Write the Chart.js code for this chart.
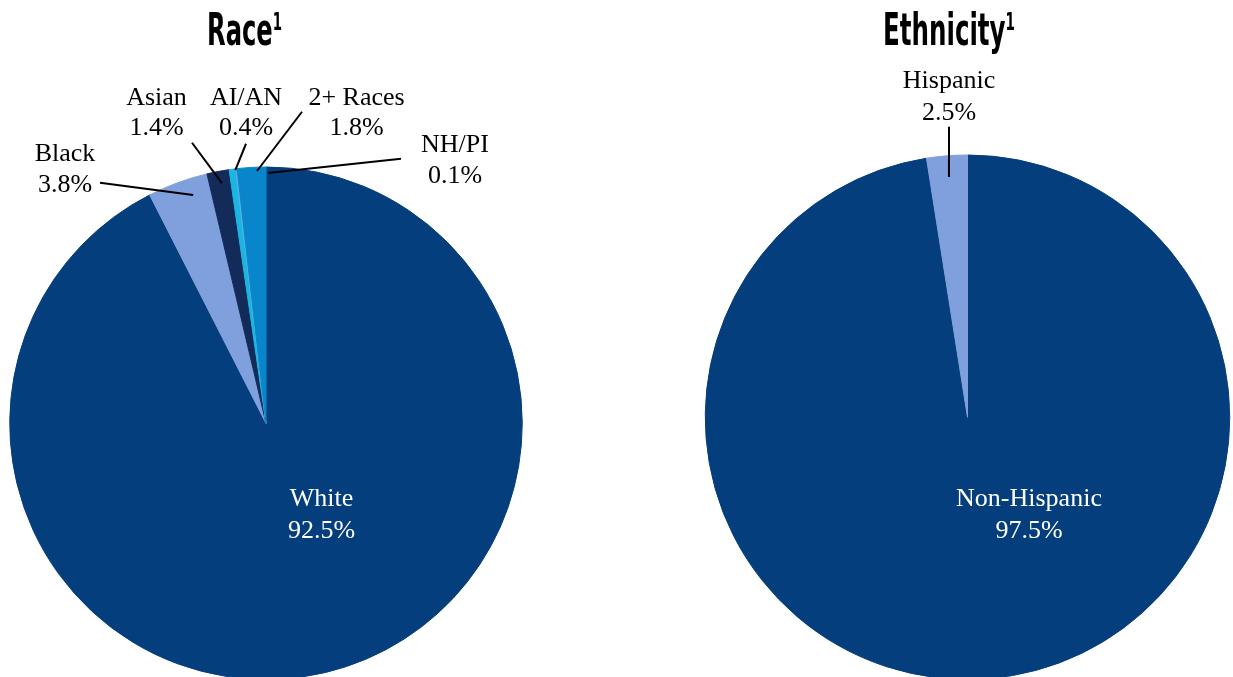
<!DOCTYPE html>
<html>
<head>
<meta charset="utf-8">
<script src="https://cdn.jsdelivr.net/npm/chart.js@4.4.1/dist/chart.umd.min.js"></script>
<style>
  html, body { margin:0; padding:0; width:1233px; height:677px; overflow:hidden; background:#fff; }
  .box { position:absolute; top:0; height:700px; }
  .title { position:absolute; top:0; white-space:nowrap; font-family:"Liberation Sans Narrow","DejaVu Sans Condensed","Liberation Sans",sans-serif; font-weight:bold; font-size:44px; line-height:1; color:#000; transform-origin:0 0; }
  .title sup { font-size:0.55em; vertical-align:0; position:relative; top:-0.62em; }
</style>
</head>
<body>
<div class="box" id="leftBox" style="left:0;width:600px;"><canvas id="raceChart"></canvas></div>
<div class="box" id="rightBox" style="left:620px;width:613px;"><canvas id="ethChart"></canvas></div>
<div class="title" id="t1">Race<sup>1</sup></div>
<div class="title" id="t2">Ethnicity<sup>1</sup></div>
<script>
// ---- data ----
const raceCategories = ["White", "Black", "Asian", "AI/AN", "NH/PI", "2+ Races"];
const raceValues     = [92.5, 3.8, 1.4, 0.4, 0.1, 1.8];
const ethCategories  = ["Non-Hispanic", "Hispanic"];
const ethValues      = [97.5, 2.5];

// ---- styles ----
const raceColors = ["#053e7c", "#7fa0dc", "#132b58", "#19b5e3", "#56aee0", "#0986cb"];
const ethColors  = ["#053e7c", "#7fa0dc"];
const LABEL_FONT = "26px 'Liberation Serif', 'Times New Roman', serif";

// label layout: text position relative to pie centre, leader line from outer point to a point on a slice
const raceLabelLayout = [
  { idx:0, dx:55.5,  dy:[82.5, 114.5], color:"#fff" },
  { idx:1, dx:-201,  dy:[-262.5,-231.5], line:{ox:-166, oy:-240.5, arc:1, f:0.68, r:0.935} },
  { idx:2, dx:-109.5,dy:[-318.5,-288.5], line:{ox:-74,  oy:-280.5, arc:2, f:0.58, r:0.953} },
  { idx:3, dx:-20,   dy:[-318.5,-288.5], line:{ox:-20,  oy:-279.5, arc:3, f:0.95, r:0.995} },
  { idx:4, dx:189,   dy:[-271.5,-240.5], line:{ox:135,  oy:-264.5, arc:0, f:0.0014, r:0.977} },
  { idx:5, dx:90.5,  dy:[-318.5,-288.5], line:{ox:36,   oy:-311.5, arc:5, f:0.685, r:0.985} }
];
const ethLabelLayout = [
  { idx:0, dx:61.5,  dy:[88.5, 120.5], color:"#fff" },
  { idx:1, dx:-18.5, dy:[-329.5,-297.5], line:{ox:-18.5, oy:-290.5, arc:1, f:0.51, r:0.919} }
];

const labelPlugin = {
  id: 'pieLabels',
  afterDatasetsDraw(chart, args, opts) {
    const meta = chart.getDatasetMeta(0);
    const arcs = meta.data;
    if (!arcs.length) return;
    const cx = arcs[0].x, cy = arcs[0].y;
    const ctx = chart.ctx;
    const cats = chart.data.labels;
    const vals = chart.data.datasets[0].data;
    ctx.save();
    opts.layout.forEach(l => {
      if (l.line) {
        const a = arcs[l.line.arc];
        const p = a.getProps(['startAngle','endAngle','outerRadius'], true);
        const ang = p.startAngle + l.line.f * (p.endAngle - p.startAngle);
        const rr = p.outerRadius * l.line.r;
        ctx.beginPath();
        ctx.moveTo(cx + l.line.ox, cy + l.line.oy);
        ctx.lineTo(cx + Math.cos(ang) * rr, cy + Math.sin(ang) * rr);
        ctx.strokeStyle = "#000";
        ctx.lineWidth = 2;
        ctx.stroke();
      }
      ctx.font = LABEL_FONT;
      ctx.fillStyle = l.color || "#000";
      ctx.textAlign = "center";
      ctx.textBaseline = "alphabetic";
      ctx.fillText(cats[l.idx], cx + l.dx, cy + l.dy[0]);
      ctx.fillText(vals[l.idx].toFixed(1) + "%", cx + l.dx, cy + l.dy[1]);
    });
    ctx.restore();
  }
};

function makePie(id, cats, vals, colors, layout, padding) {
  return new Chart(document.getElementById(id), {
    type: 'pie',
    data: { labels: cats, datasets: [{ data: vals, backgroundColor: colors, borderColor: colors, borderWidth: 1 }] },
    options: {
      responsive: true, maintainAspectRatio: false, animation: false,
      layout: { padding },
      plugins: { legend: { display:false }, tooltip: { enabled:false }, pieLabels: { layout } }
    },
    plugins: [labelPlugin]
  });
}

makePie('raceChart', raceCategories, raceValues, raceColors, raceLabelLayout,
        { left: 9, right: 77, top: 166.5, bottom: 20 });
makePie('ethChart', ethCategories, ethValues, ethColors, ethLabelLayout,
        { left: 84.5, right: 2.5, top: 154.5, bottom: 20 });

// fit titles to reference widths
function fitTitle(el, left, width, top) {
  const w = el.getBoundingClientRect().width;
  const s = width / w;
  el.style.left = left + "px";
  el.style.top = top + "px";
  el.style.transform = "scaleX(" + s + ")";
}
fitTitle(document.getElementById('t1'), 207, 75, 8);
fitTitle(document.getElementById('t2'), 883, 132, 8);
</script>
</body>
</html>
